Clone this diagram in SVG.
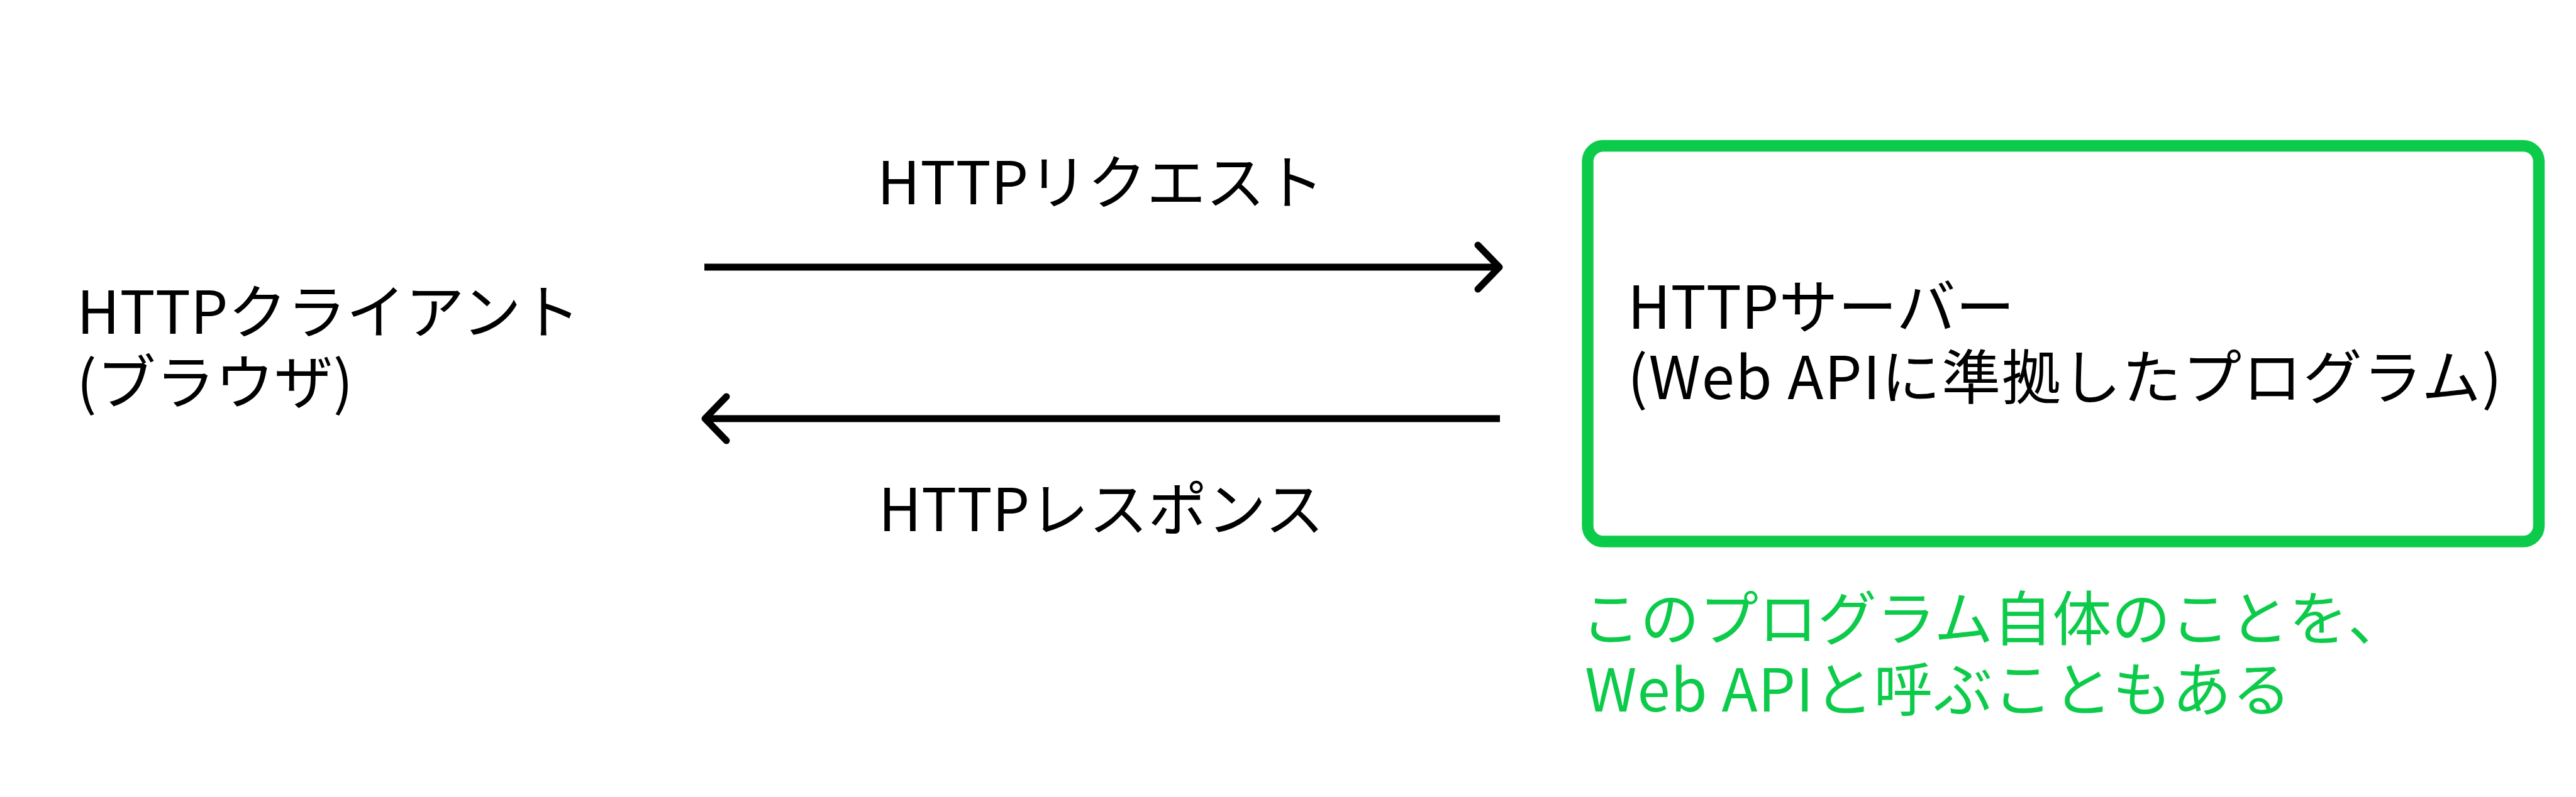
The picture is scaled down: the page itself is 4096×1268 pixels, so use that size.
<svg xmlns="http://www.w3.org/2000/svg" width="4096" height="1268" viewBox="0 0 4096 1268">
  <defs>
    <style>
      .t { font-family: "Noto Sans CJK JP", "Noto Sans", sans-serif; font-size: 94px; fill: #000; }
      .g { fill: #0DCB4A; }
      .edge { stroke: #000; stroke-width: 11; fill: none; marker-end: url(#chev); }
      .box { fill: #fff; stroke: #0DCB4A; stroke-width: 18.4; }
    </style>
    <marker id="chev" markerUnits="userSpaceOnUse" markerWidth="90" markerHeight="90" viewBox="-45 -45 90 90" refX="0" refY="0" orient="auto" overflow="visible">
      <path d="M-34,-35 L0,0 L-34,35" fill="none" stroke="#000" stroke-width="11" stroke-linecap="round" stroke-linejoin="round"/>
    </marker>
  </defs>
  <rect width="4096" height="1268" fill="#fff"/>

  <g id="client">
    <text class="t" x="122" y="531">HTTPクライアント</text>
    <text class="t" x="122" y="643">(ブラウザ)</text>
  </g>

  <g id="connectors">
    <line id="request" class="edge" x1="1120" y1="425" x2="2384" y2="425"/>
    <line id="response" class="edge" x1="2385" y1="666" x2="1121" y2="666"/>
    <text class="t" x="1750" y="325" text-anchor="middle">HTTPリクエスト</text>
    <text class="t" x="1751" y="845" text-anchor="middle">HTTPレスポンス</text>
  </g>

  <g id="server">
    <rect class="box" x="2524.5" y="232" width="1512.5" height="629.5" rx="25" ry="25"/>
    <text class="t" x="2588" y="523">HTTPサーバー</text>
    <text class="t" x="2588" y="635" textLength="1390" lengthAdjust="spacing">(Web APIに準拠したプログラム)</text>
  </g>

  <g id="note">
    <text class="t g" x="2514" y="1019">このプログラム自体のことを、</text>
    <text class="t g" x="2520" y="1132" textLength="1123" lengthAdjust="spacing">Web APIと呼ぶこともある</text>
  </g>
</svg>
